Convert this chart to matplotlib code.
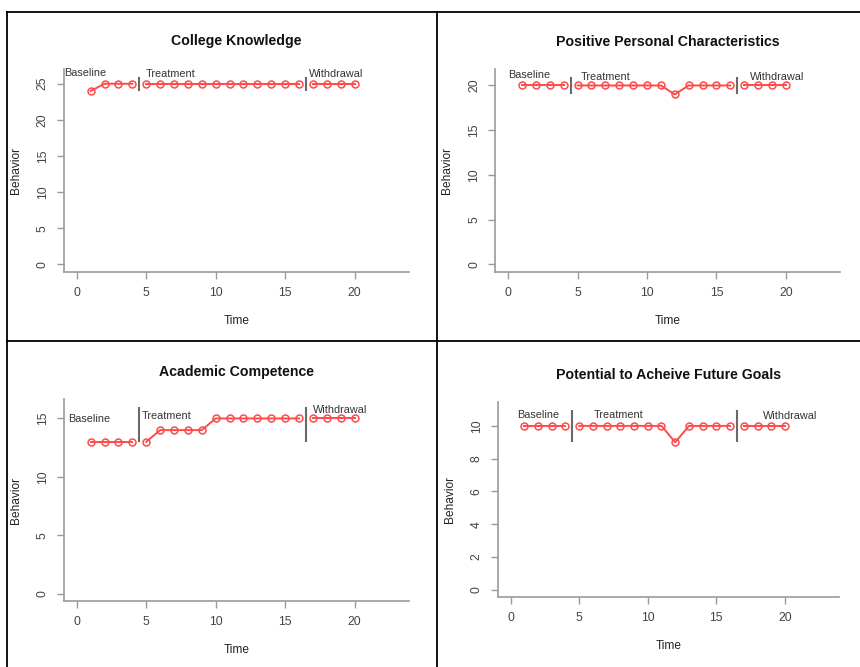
import matplotlib
matplotlib.use("Agg")
import matplotlib.pyplot as plt
from matplotlib.lines import Line2D

plt.rcParams['font.family'] = ['Liberation Sans', 'DejaVu Sans']

W, H = 860, 667

# ---- data ----
titles = ["College Knowledge", "Positive Personal Characteristics",
          "Academic Competence", "Potential to Acheive Future Goals"]
time_baseline = [1, 2, 3, 4]
time_treatment = [5, 6, 7, 8, 9, 10, 11, 12, 13, 14, 15, 16]
time_withdrawal = [17, 18, 19, 20]

college_baseline = [24, 25, 25, 25]
college_treatment = [25, 25, 25, 25, 25, 25, 25, 25, 25, 25, 25, 25]
college_withdrawal = [25, 25, 25, 25]

positive_baseline = [20, 20, 20, 20]
positive_treatment = [20, 20, 20, 20, 20, 20, 20, 19, 20, 20, 20, 20]
positive_withdrawal = [20, 20, 20, 20]

academic_baseline = [13, 13, 13, 13]
academic_treatment = [13, 14, 14, 14, 14, 15, 15, 15, 15, 15, 15, 15]
academic_withdrawal = [15, 15, 15, 15]

potential_baseline = [10, 10, 10, 10]
potential_treatment = [10, 10, 10, 10, 10, 10, 10, 9, 10, 10, 10, 10]
potential_withdrawal = [10, 10, 10, 10]

y_max = [26, 21, 16, 11]
y_ticks = [[0, 5, 10, 15, 20, 25], [0, 5, 10, 15, 20],
           [0, 5, 10, 15], [0, 2, 4, 6, 8, 10]]
x_ticks = [0, 5, 10, 15, 20]
phase_x = [4.5, 16.5]
phase_line_low = [24, 19, 13, 9]
phase_labels = ["Baseline", "Treatment", "Withdrawal"]
# label positions (x, y) in data units for each panel
label_pos = [
    [(0.6, 26.5), (6.75, 26.4), (18.7, 26.4)],
    [(1.5, 21.15), (7.0, 21.0), (19.4, 21.0)],
    [(0.9, 14.95), (6.45, 15.17), (18.95, 15.69)],
    [(2.0, 10.69), (7.85, 10.69), (20.35, 10.63)],
]

series = [
    (college_baseline, college_treatment, college_withdrawal),
    (positive_baseline, positive_treatment, positive_withdrawal),
    (academic_baseline, academic_treatment, academic_withdrawal),
    (potential_baseline, potential_treatment, potential_withdrawal),
]

# axes boxes in pixels: left, right, top, bottom
boxes = [
    (64, 409, 69, 272),
    (495.3, 840.3, 69, 272),
    (64, 409, 399.3, 601),
    (498, 838.7, 402.3, 597),
]

RED = "#FF4A4A"
AXC = "#9a9a9a"
TXT = "#444444"

fig = plt.figure(figsize=(W / 100, H / 100), dpi=100)


def fx(px):
    return px / W


def fy(py):
    return 1 - py / H


for i in range(4):
    l, r, t, b = boxes[i]
    ax = fig.add_axes([fx(l), fy(b), fx(r) - fx(l), fy(t) - fy(b)])
    ax.set_xlim(-0.92, 23.92)
    ext = y_max[i] * 0.04
    ax.set_ylim(-ext, y_max[i] + ext)
    for xs, ys in zip((time_baseline, time_treatment, time_withdrawal), series[i]):
        ax.plot(xs, ys, color=RED, lw=1.4, marker='o', ms=5.0,
                mfc='none', mec=RED, mew=1.1, clip_on=False)
    for px in phase_x:
        ax.plot([px, px], [phase_line_low[i], y_max[i]], color="#6a6a6a",
                lw=1.5, solid_capstyle='butt')
    for lab, (lx, ly) in zip(phase_labels, label_pos[i]):
        ax.text(lx, ly, lab, ha='center', va='center', fontsize=7.8, color="#333333")
    ax.set_xticks(x_ticks)
    ax.set_yticks(y_ticks[i])
    ax.set_yticklabels([str(v) for v in y_ticks[i]], rotation=90, va='center')
    for s in ('top', 'right'):
        ax.spines[s].set_visible(False)
    for s in ('left', 'bottom'):
        ax.spines[s].set_color(AXC)
        ax.spines[s].set_linewidth(1.2)
    ax.tick_params(direction='out', length=5, width=1.0, color=AXC,
                   labelcolor=TXT, labelsize=8.8, pad=6)
    ax.patch.set_alpha(0)
    cx = (l + r) / 2
    cy = (t + b) / 2
    fig.text(fx(cx), fy(t - 27.5), titles[i], ha='center', va='center',
             fontsize=10.2, fontweight='bold', color="#111111")
    fig.text(fx(cx), fy(b + 49), "Time", ha='center', va='center',
             fontsize=8.6, color="#222222")
    fig.text(fx(l - 48), fy(cy), "Behavior",
             ha='center', va='center', rotation=90, fontsize=8.6, color="#222222")

# table borders
border = dict(color='black', lw=1.3, transform=fig.transFigure)
fig.add_artist(Line2D([fx(7), fx(860)], [fy(12), fy(12)], **border))
fig.add_artist(Line2D([fx(7), fx(860)], [fy(341), fy(341)], **border))
fig.add_artist(Line2D([fx(7), fx(7)], [fy(12), fy(667)], **border))
fig.add_artist(Line2D([fx(437), fx(437)], [fy(12), fy(667)], **border))

fig.savefig("out.png", dpi=100)
